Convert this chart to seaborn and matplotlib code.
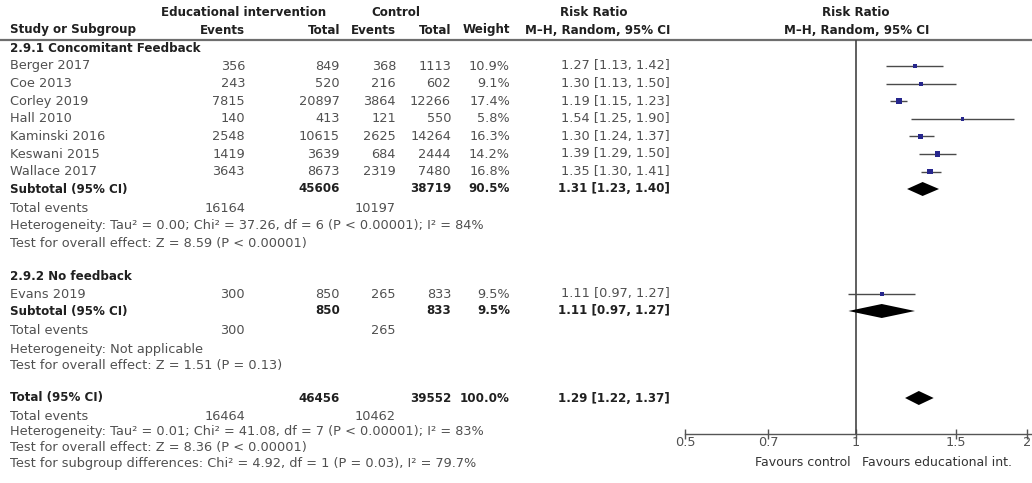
import numpy as np
import pandas as pd
import matplotlib
matplotlib.use("Agg")
import matplotlib.pyplot as plt
import seaborn as sns

# ---- study-level data -------------------------------------------------------
studies = ["Berger 2017", "Coe 2013", "Corley 2019", "Hall 2010",
           "Kaminski 2016", "Keswani 2015", "Wallace 2017", "Evans 2019"]
subgroup = ["fb"] * 7 + ["nofb"]
exp_events = [356, 243, 7815, 140, 2548, 1419, 3643, 300]
exp_total = [849, 520, 20897, 413, 10615, 3639, 8673, 850]
ctl_events = [368, 216, 3864, 121, 2625, 684, 2319, 265]
ctl_total = [1113, 602, 12266, 550, 14264, 2444, 7480, 833]
weight = [10.9, 9.1, 17.4, 5.8, 16.3, 14.2, 16.8, 9.5]
rr = [1.27, 1.30, 1.19, 1.54, 1.30, 1.39, 1.35, 1.11]
rr_lo = [1.13, 1.13, 1.15, 1.25, 1.24, 1.29, 1.30, 0.97]
rr_hi = [1.42, 1.50, 1.23, 1.90, 1.37, 1.50, 1.41, 1.27]

# ---- pooled estimates (subgroup 1, subgroup 2, overall) ---------------------
pool_names = ["Subtotal (95% CI)", "Subtotal (95% CI)", "Total (95% CI)"]
pool_exp_total = [45606, 850, 46456]
pool_ctl_total = [38719, 833, 39552]
pool_weight = [90.5, 9.5, 100.0]
pool_rr = [1.31, 1.11, 1.29]
pool_lo = [1.23, 0.97, 1.22]
pool_hi = [1.40, 1.27, 1.37]
pool_exp_events = [16164, 300, 16464]
pool_ctl_events = [10197, 265, 10462]
pool_het = ["Heterogeneity: Tau\u00b2 = 0.00; Chi\u00b2 = 37.26, df = 6 (P < 0.00001); I\u00b2 = 84%",
            "Heterogeneity: Not applicable",
            "Heterogeneity: Tau\u00b2 = 0.01; Chi\u00b2 = 41.08, df = 7 (P < 0.00001); I\u00b2 = 83%"]
pool_z = ["Test for overall effect: Z = 8.59 (P < 0.00001)",
          "Test for overall effect: Z = 1.51 (P = 0.13)",
          "Test for overall effect: Z = 8.36 (P < 0.00001)"]
subgroup_titles = ["2.9.1 Concomitant Feedback", "2.9.2 No feedback"]
subgroup_test = "Test for subgroup differences: Chi\u00b2 = 4.92, df = 1 (P = 0.03), I\u00b2 = 79.7%"

axis_ticks = [0.5, 0.7, 1, 1.5, 2]
axis_ticklabels = ["0.5", "0.7", "1", "1.5", "2"]
favours_left = "Favours control"
favours_right = "Favours educational int."

# ---- layout (pixel rows / columns on a 1032 x 483 canvas) -------------------
W, H = 1032, 483
study_rows = [66, 83.6, 101.2, 118.8, 136.4, 154, 171.6, 294]
title_rows = [48, 276]
pool_rows = [189, 311, 398]
events_rows = [208, 331, 416]
het_rows = [226, 349, 432]
z_rows = [244, 366, 448]
subtest_row = 464
col_name = 10
col_ee, col_et, col_ce, col_ct, col_w, col_rr = 245, 340, 396, 451, 510, 670
axis_y, header_line_y = 434, 40
fx0 = 685          # pixel position of RR = 0.5

sns.set_theme(style="white")
plt.rcParams["font.family"] = ["DejaVu Sans"]
FS = 9.3           # regular text
FSB = 8.6          # bold text
GREY = "#505050"
DARK = "#202020"

fig = plt.figure(figsize=(W / 100, H / 100), dpi=100, facecolor="white")
tab = fig.add_axes([0, 0, 1, 1])
tab.set_xlim(0, W)
tab.set_ylim(H, 0)
tab.axis("off")


def txt(x, y, s, ha="left", bold=False, color=None, size=None):
    tab.text(x, y, s, ha=ha, va="center",
             fontsize=size or (FSB if bold else FS),
             fontweight="bold" if bold else "normal",
             color=color or (DARK if bold else GREY))


# column headers
txt(244, 13, "Educational intervention", ha="center", bold=True)
txt(396, 13, "Control", ha="center", bold=True)
txt(594, 13, "Risk Ratio", ha="center", bold=True)
txt(856, 13, "Risk Ratio", ha="center", bold=True)
txt(col_name, 30, "Study or Subgroup", bold=True)
txt(col_ee, 30, "Events", ha="right", bold=True)
txt(col_et, 30, "Total", ha="right", bold=True)
txt(col_ce, 30, "Events", ha="right", bold=True)
txt(col_ct, 30, "Total", ha="right", bold=True)
txt(col_w, 30, "Weight", ha="right", bold=True)
txt(col_rr, 30, "M\u2013H, Random, 95% CI", ha="right", bold=True)
txt(857, 30, "M\u2013H, Random, 95% CI", ha="center", bold=True)
tab.plot([0, W], [header_line_y, header_line_y], color="#6e6e6e", lw=1.6)

# subgroup titles
for y, t in zip(title_rows, subgroup_titles):
    txt(col_name, y, t, bold=True)

# study rows
for i, y in enumerate(study_rows):
    txt(col_name, y, studies[i])
    txt(col_ee, y, f"{exp_events[i]}", ha="right")
    txt(col_et, y, f"{exp_total[i]}", ha="right")
    txt(col_ce, y, f"{ctl_events[i]}", ha="right")
    txt(col_ct, y, f"{ctl_total[i]}", ha="right")
    txt(col_w, y, f"{weight[i]:.1f}%", ha="right")
    txt(col_rr, y, f"{rr[i]:.2f} [{rr_lo[i]:.2f}, {rr_hi[i]:.2f}]", ha="right")

# pooled rows and their footnotes
for k in range(3):
    y = pool_rows[k]
    txt(col_name, y, pool_names[k], bold=True)
    txt(col_et, y, f"{pool_exp_total[k]}", ha="right", bold=True)
    txt(col_ct, y, f"{pool_ctl_total[k]}", ha="right", bold=True)
    txt(col_w, y, f"{pool_weight[k]:.1f}%", ha="right", bold=True)
    txt(col_rr, y, f"{pool_rr[k]:.2f} [{pool_lo[k]:.2f}, {pool_hi[k]:.2f}]",
        ha="right", bold=True)
    txt(col_name, events_rows[k], "Total events")
    txt(col_ee, events_rows[k], f"{pool_exp_events[k]}", ha="right")
    txt(col_ce, events_rows[k], f"{pool_ctl_events[k]}", ha="right")
    txt(col_name, het_rows[k], pool_het[k])
    txt(col_name, z_rows[k], pool_z[k])
txt(col_name, subtest_row, subgroup_test)

# ---- forest panel -----------------------------------------------------------
fx1 = W
px_per_ln = (1027 - fx0) / np.log(4)
xmax = 0.5 * np.exp((fx1 - fx0) / px_per_ln)
fst = fig.add_axes([fx0 / W, (H - axis_y) / H, (fx1 - fx0) / W,
                    (axis_y - header_line_y) / H])
fst.patch.set_alpha(0)
fst.set_xscale("log")
fst.set_xlim(0.5, xmax)
fst.set_ylim(axis_y, header_line_y)
for side in ["left", "right", "top"]:
    fst.spines[side].set_visible(False)
fst.spines["bottom"].set_color("#555555")
fst.spines["bottom"].set_linewidth(1.0)
fst.axvline(1, color="#444444", lw=1.2, zorder=1)

df = pd.DataFrame({"study": studies, "rr": rr, "lo": rr_lo, "hi": rr_hi,
                   "weight": weight, "row": study_rows})
fst.hlines(df["row"], df["lo"], df["hi"], color="#4a4a4a", lw=1.0, zorder=2)
sns.scatterplot(data=df, x="rr", y="row", size="weight", sizes=(6, 16),
                marker="s", color="#26268c", edgecolor="#26268c",
                linewidth=0, legend=False, ax=fst, zorder=3)

half_h = 7
for k in range(3):
    y = pool_rows[k]
    fst.fill([pool_lo[k], pool_rr[k], pool_hi[k], pool_rr[k]],
             [y, y - half_h, y, y + half_h], color="black", lw=0, zorder=3)

fst.set_xticks(axis_ticks)
fst.set_xticklabels(axis_ticklabels)
fst.xaxis.set_minor_locator(matplotlib.ticker.NullLocator())
fst.tick_params(axis="x", direction="inout", length=7, width=1.0,
                color="#555555", pad=-2, labelsize=FS, labelcolor=GREY,
                bottom=True)
fst.tick_params(axis="y", left=False, labelleft=False)
fst.set_xlabel("")
fst.set_ylabel("")

txt(851, 462, favours_left, ha="right", color="#333333", size=9.0)
txt(862, 462, favours_right, ha="left", color="#333333", size=9.0)

fig.savefig("out.png", dpi=100, facecolor="white")
